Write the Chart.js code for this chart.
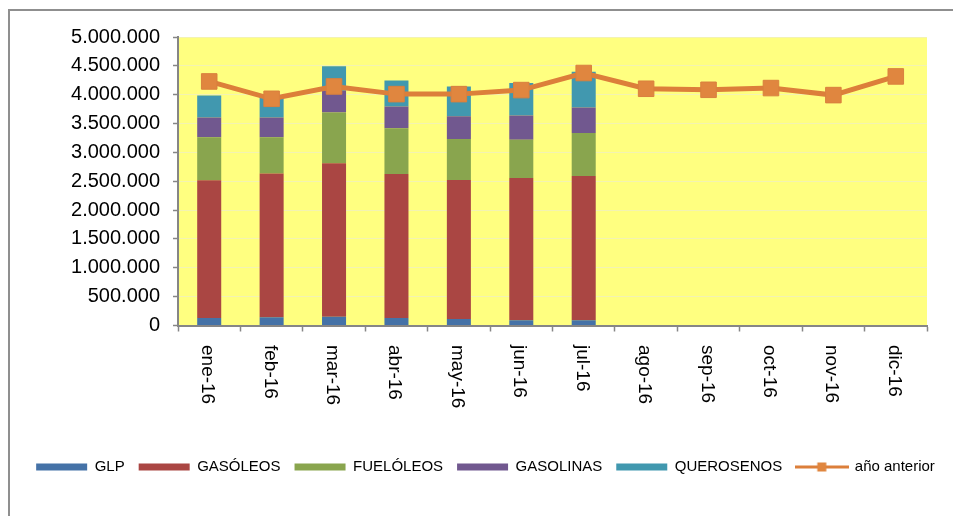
<!DOCTYPE html>
<html>
<head>
<meta charset="utf-8">
<script src="https://cdn.jsdelivr.net/npm/chart.js@4.4.0/dist/chart.umd.min.js"></script>
<style>
  html, body { margin: 0; padding: 0; background: #fff; overflow: hidden; }
  #wrap { position: relative; width: 953px; height: 516px; }
  #frame { position: absolute; left: 8px; top: 9px; width: 1000px; height: 600px;
           border: 2px solid #8f8f8f; box-sizing: border-box; pointer-events: none; }
  canvas { position: absolute; left: 0; top: 0; }
</style>
</head>
<body>
<div id="wrap">
  <div id="frame"></div>
  <canvas id="chart" width="953" height="516"></canvas>
</div>
<script>
const MONTHS = ['ene-16', 'feb-16', 'mar-16', 'abr-16', 'may-16', 'jun-16',
                'jul-16', 'ago-16', 'sep-16', 'oct-16', 'nov-16', 'dic-16'];

// monthly volumes per product, only Jan-Jul reported so far
const GLP        = [131000, 143000, 153000, 131000, 113000, 90000, 90000];
const GASOLEOS   = [2386000, 2491000, 2661000, 2496000, 2410000, 2468000, 2503000];
const FUELOLEOS  = [744000, 627000, 876000, 791000, 709000, 662000, 743000];
const GASOLINAS  = [342000, 342000, 378000, 376000, 395000, 418000, 441000];
const QUEROSENOS = [383000, 377000, 423000, 453000, 516000, 564000, 622000];

// same month of the previous year (total)
const PREV_YEAR = [4230000, 3929000, 4143000, 4010000, 4010000, 4080000,
                   4376000, 4103000, 4085000, 4115000, 3993000, 4317000];

const Y_MAX = 5000000;
const Y_STEP = 500000;

const FONT = '"Liberation Sans", Arial, sans-serif';
const PLOT_BG = '#FFFF80';
const AXIS_COLOR = '#868686';
const GRID_COLOR = '#f3f3b2';
const LINE_COLOR = '#DC7F3A';
const MARKER_COLOR = '#E0863F';

function thousands(v) {
  return String(v).replace(/\B(?=(\d{3})+(?!\d))/g, '.');
}

function barSet(label, data, color) {
  return {
    label,
    data,
    backgroundColor: color,
    borderWidth: 0,
    stack: 'products',
    categoryPercentage: 1,
    barPercentage: 0.385,
  };
}

// small line + square used as the legend swatch of the line series
function lineLegendIcon() {
  const c = document.createElement('canvas');
  c.width = 54;
  c.height = 10;
  const g = c.getContext('2d');
  g.fillStyle = LINE_COLOR;
  g.fillRect(0, 3.5, 54, 3);
  g.fillStyle = MARKER_COLOR;
  g.fillRect(22.5, 0.5, 9, 9);
  return c;
}
const LINE_ICON = lineLegendIcon();

const plotBackground = {
  id: 'plotBackground',
  beforeDraw(chart) {
    const { ctx, chartArea: a } = chart;
    ctx.save();
    ctx.fillStyle = PLOT_BG;
    ctx.fillRect(a.left, a.top, a.width, a.height);
    ctx.restore();
  },
};

// month labels written downwards under each category
const downLabels = {
  id: 'downLabels',
  afterDraw(chart) {
    const x = chart.scales.x;
    const ctx = chart.ctx;
    ctx.save();
    ctx.font = `19px ${FONT}`;
    ctx.fillStyle = '#000';
    ctx.textAlign = 'left';
    ctx.textBaseline = 'alphabetic';
    MONTHS.forEach((m, i) => {
      ctx.save();
      ctx.translate(x.getPixelForTick(i), x.top + 19.5);
      ctx.rotate(Math.PI / 2);
      ctx.fillText(m, 0, 7);
      ctx.restore();
    });
    ctx.restore();
  },
};

new Chart(document.getElementById('chart'), {
  type: 'bar',
  data: {
    labels: MONTHS,
    datasets: [
      barSet('GLP', GLP, '#4572A7'),
      barSet('GASÓLEOS', GASOLEOS, '#AA4643'),
      barSet('FUELÓLEOS', FUELOLEOS, '#89A54E'),
      barSet('GASOLINAS', GASOLINAS, '#71588F'),
      barSet('QUEROSENOS', QUEROSENOS, '#4198AF'),
      {
        type: 'line',
        label: 'año anterior',
        data: PREV_YEAR,
        stack: 'prev',
        order: -1,
        borderColor: LINE_COLOR,
        borderWidth: 5,
        tension: 0,
        pointStyle: 'rect',
        pointRadius: 11,
        pointBackgroundColor: MARKER_COLOR,
        pointBorderColor: '#D9803E',
        pointBorderWidth: 1,
      },
    ],
  },
  options: {
    responsive: false,
    animation: false,
    layout: { padding: { left: 18, right: 0, top: 37, bottom: 31.5 } },
    scales: {
      x: {
        stacked: true,
        border: { color: AXIS_COLOR, width: 2 },
        grid: { drawOnChartArea: false, tickLength: 6, tickColor: AXIS_COLOR, tickWidth: 1.5 },
        ticks: { display: false },
        afterFit(scale) { scale.height = 120; },
      },
      y: {
        stacked: true,
        min: 0,
        max: Y_MAX,
        border: { color: AXIS_COLOR, width: 2 },
        grid: { color: GRID_COLOR, lineWidth: 1, tickLength: 5, tickColor: AXIS_COLOR, tickWidth: 1.5 },
        ticks: {
          stepSize: Y_STEP,
          padding: 13,
          color: '#000',
          font: { size: 20, family: FONT },
          callback: (v) => thousands(v),
        },
        afterFit(scale) { scale.width = 160; },
      },
      // empty right-hand gutter so the legend can use the full width
      gutter: {
        position: 'right',
        grid: { display: false },
        border: { display: false },
        ticks: { display: false },
        afterFit(scale) { scale.width = 26; },
      },
    },
    plugins: {
      tooltip: { enabled: false },
      legend: {
        position: 'bottom',
        labels: {
          usePointStyle: true,
          pointStyleWidth: 51,
          boxHeight: 7,
          padding: 14,
          color: '#000',
          font: { size: 15, family: FONT },
          sort: (a, b) => a.datasetIndex - b.datasetIndex,
          generateLabels(chart) {
            const items = Chart.defaults.plugins.legend.labels.generateLabels(chart);
            items.forEach((it) => {
              if (chart.data.datasets[it.datasetIndex].type === 'line') {
                it.pointStyle = LINE_ICON;
              } else {
                it.pointStyle = 'rect';
                it.lineWidth = 0;
              }
            });
            return items;
          },
        },
      },
    },
  },
  plugins: [plotBackground, downLabels],
});
</script>
</body>
</html>
